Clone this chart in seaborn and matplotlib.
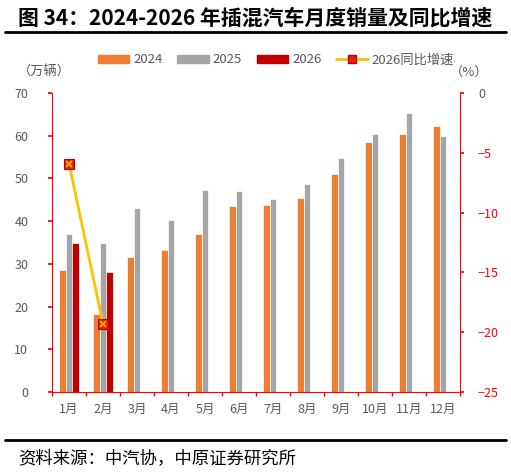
import numpy as np
import pandas as pd
import seaborn as sns
import matplotlib.pyplot as plt
from matplotlib.lines import Line2D
from matplotlib.patches import Patch
from matplotlib.ticker import FixedLocator

MONTHS = ['1月', '2月', '3月', '4月', '5月', '6月', '7月', '8月', '9月', '10月', '11月', '12月']
SALES_2024 = [28.5, 18.3, 31.7, 33.2, 37.1, 43.6, 43.8, 45.3, 51.0, 58.6, 60.5, 62.3]
SALES_2025 = [37.0, 34.8, 43.1, 40.3, 47.3, 47.1, 45.1, 48.6, 54.7, 60.5, 65.2, 60.0]
SALES_2026 = [34.8, 28.0]
GROWTH_2026 = [-5.9, -19.3]  # 2026同比增速 (%)

YEARS = ['2024', '2025', '2026']
COLORS = {'2024': '#ED7D31', '2025': '#A5A5A5', '2026': '#C00000'}
AXIS_RED = '#FF0000'
GREY_TXT = '#595959'

rows = []
for year, vals in zip(YEARS, [SALES_2024, SALES_2025, SALES_2026]):
    for m, v in zip(MONTHS, vals):
        rows.append({'month': m, 'year': year, 'sales': v})
df = pd.DataFrame(rows)

sns.set_theme(style='white')
plt.rcParams['font.family'] = ['Noto Sans CJK SC', 'DejaVu Sans']

fig = plt.figure(figsize=(5.11, 4.72), dpi=100)
ax = fig.add_axes([0.1018, 0.1695, 0.7982, 0.6335])

sns.barplot(data=df, x='month', y='sales', hue='year', order=MONTHS, hue_order=YEARS,
            palette=COLORS, saturation=1, width=0.57, edgecolor='white', linewidth=0.5,
            legend=False, ax=ax)
ax.set_xlim(-0.5, len(MONTHS) - 0.5)
ax.set_ylim(0, 70)
ax.set_yticks(np.arange(0, 71, 10))
ax.set_xlabel('')
ax.set_ylabel('')

# growth line on right axis
ax2 = ax.twinx()
gx = np.arange(len(GROWTH_2026))
ax2.plot(gx, GROWTH_2026, color='#FFC000', lw=2, marker='s', ms=7,
         mfc='#E8200A', mec='#C00000', mew=0.8, zorder=5)
ax2.plot(gx, GROWTH_2026, ls='none', marker='x', ms=4, mec='#FFC000', mew=1.2, zorder=6)
ax2.set_ylim(-25, 0)
ax2.set_yticks(np.arange(-25, 1, 5))

for a in (ax, ax2):
    a.spines['top'].set_visible(False)
    for side in ('left', 'right', 'bottom'):
        a.spines[side].set_color(AXIS_RED)
        a.spines[side].set_linewidth(0.8)
ax.spines['right'].set_visible(False)
ax2.spines['left'].set_visible(False)
ax2.spines['bottom'].set_visible(False)

ax.tick_params(axis='y', which='major', left=True, length=3, color=AXIS_RED,
               labelsize=9, labelcolor=GREY_TXT, pad=14)
ax.tick_params(axis='x', which='major', length=0, labelsize=9, labelcolor=GREY_TXT, pad=8)
ax.xaxis.set_minor_locator(FixedLocator(np.arange(-0.5, len(MONTHS), 1.0)))
ax.tick_params(axis='x', which='minor', bottom=True, length=3, color=AXIS_RED)
ax2.tick_params(axis='y', right=True, length=3, color=AXIS_RED, labelsize=9,
                labelcolor=AXIS_RED, pad=10)
ax2.get_yticklabels()[-1].set_color(GREY_TXT)

# legend
handles = [Patch(color=COLORS[y]) for y in YEARS]
handles.append(Line2D([], [], color='#FFC000', lw=2, marker='s', ms=6,
                      mfc='#E8200A', mec='#C00000'))
fig.legend(handles, YEARS + ['2026同比增速'], loc='center', bbox_to_anchor=(0.54, 0.873),
           ncol=4, frameon=False, fontsize=9.5, handlelength=2.4, handleheight=0.6,
           columnspacing=1.1, handletextpad=0.3, labelcolor=GREY_TXT)

fig.text(0.035, 0.848, '（万辆）', fontsize=9.5, color=GREY_TXT, ha='left', va='center')
fig.text(0.955, 0.848, '（%）', fontsize=9.5, color=GREY_TXT, ha='right', va='center')

fig.text(0.035, 0.962, '图 34：2024-2026 年插混汽车月度销量及同比增速', fontsize=15,
         fontweight='bold', color='black', ha='left', va='center')
fig.add_artist(Line2D([0.01, 0.99], [0.932, 0.932], color='black', lw=2))
fig.add_artist(Line2D([0.01, 0.99], [0.067, 0.067], color='black', lw=2))
fig.text(0.035, 0.03, '资料来源：中汽协，中原证券研究所', fontsize=12.5, color='black',
         ha='left', va='center')

fig.savefig('out.png', dpi=100)
